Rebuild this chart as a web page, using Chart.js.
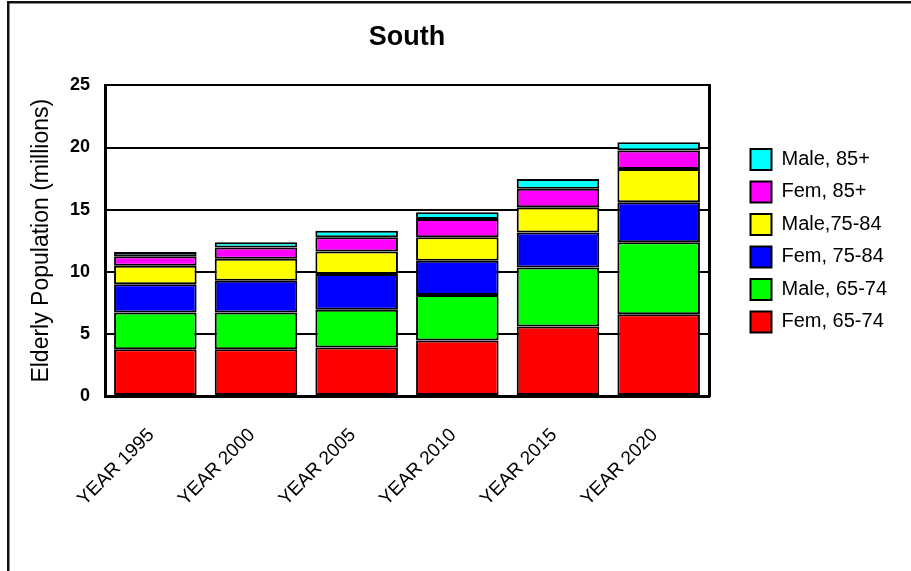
<!DOCTYPE html>
<html>
<head>
<meta charset="utf-8">
<title>South</title>
<script src="https://cdn.jsdelivr.net/npm/chart.js@4.4.1/dist/chart.umd.min.js"></script>
<style>
    html, body { margin: 0; padding: 0; background: #fff; }
    #grafico { display: block; }
</style>
</head>
<body>
<canvas id="grafico" width="911" height="571"></canvas>
<script>
const anos = ["YEAR 1995", "YEAR 2000", "YEAR 2005", "YEAR 2010", "YEAR 2015", "YEAR 2020"];

// valores em milhões, de baixo para cima na pilha
const fem6574 = [3.77, 3.77, 3.90, 4.46, 5.59, 6.59];
const male6574 = [2.95, 2.95, 3.04, 3.66, 4.76, 5.78];
const fem7584 = [2.28, 2.55, 2.87, 2.77, 2.82, 3.23];
const male7584 = [1.48, 1.78, 1.83, 1.88, 2.02, 2.68];
const fem85 = [0.76, 0.91, 1.13, 1.48, 1.50, 1.48];
const male85 = [0.36, 0.41, 0.53, 0.53, 0.78, 0.67];

const yTicks = [0, 5, 10, 15, 20, 25];

const fonte = "'Liberation Sans', Arial, Helvetica, sans-serif";

function serie(label, data, cor) {
    return {
        label: label,
        data: data,
        backgroundColor: cor,
        borderColor: "#000",
        borderWidth: 2,
        borderSkipped: false,
        barPercentage: 0.82,
        categoryPercentage: 1
    };
}

// moldura externa (só topo e esquerda aparecem na imagem)
const molduraPlugin = {
    id: "moldura",
    beforeDraw(chart) {
        const ctx = chart.ctx;
        ctx.save();
        ctx.fillStyle = "#111";
        ctx.fillRect(7, 1, chart.width - 7, 2.5);
        ctx.fillRect(7, 1, 2.5, chart.height - 1);
        ctx.restore();
    }
};

new Chart(document.getElementById("grafico"), {
    type: "bar",
    data: {
        labels: anos,
        datasets: [
            serie("Fem, 65-74", fem6574, "#ff0000"),
            serie("Male, 65-74", male6574, "#00ff00"),
            serie("Fem, 75-84", fem7584, "#0000ff"),
            serie("Male,75-84", male7584, "#ffff00"),
            serie("Fem, 85+", fem85, "#ff00ff"),
            serie("Male, 85+", male85, "#00ffff")
        ]
    },
    options: {
        responsive: false,
        animation: false,
        layout: { padding: { left: 24, right: 22, top: 0, bottom: 0 } },
        plugins: {
            title: {
                display: true,
                text: "South",
                fullSize: false,
                color: "#000",
                font: { family: fonte, size: 27, weight: "bold" },
                padding: { top: 21, bottom: 32 }
            },
            legend: {
                position: "right",
                fullSize: false,
                reverse: true,
                maxWidth: 150,
                labels: {
                    color: "#000",
                    boxWidth: 21,
                    boxHeight: 21,
                    padding: 11.5,
                    font: { family: fonte, size: 20 }
                }
            },
            tooltip: { enabled: false }
        },
        scales: {
            x: {
                stacked: true,
                grid: { display: false, drawTicks: false },
                border: { display: true, color: "#000", width: 3 },
                ticks: {
                    color: "#000",
                    font: { family: fonte, size: 19 },
                    minRotation: 45,
                    maxRotation: 45,
                    autoSkip: false,
                    labelOffset: -4,
                    padding: 28
                },
                afterFit: scale => { scale.height = 175; }
            },
            y: {
                stacked: true,
                min: 0,
                max: 25,
                afterBuildTicks: scale => { scale.ticks = yTicks.map(v => ({ value: v })); },
                grid: { color: "#000", lineWidth: 2, drawTicks: false },
                border: { display: true, color: "#000", width: 3 },
                ticks: {
                    color: "#000",
                    padding: 15,
                    font: { family: fonte, size: 18, weight: "bold" }
                },
                title: {
                    display: true,
                    text: "Elderly Population (millions)",
                    color: "#000",
                    font: { family: fonte, size: 23 },
                    padding: { top: 4, bottom: 0 }
                },
                afterFit: scale => { scale.width = 81; }
            },
            y2: {
                type: "linear",
                position: "right",
                grid: { display: false, drawTicks: false },
                border: { display: true, color: "#000", width: 3 },
                ticks: { display: false },
                afterFit: scale => { scale.width = 30; }
            }
        }
    },
    plugins: [molduraPlugin]
});
</script>
</body>
</html>
